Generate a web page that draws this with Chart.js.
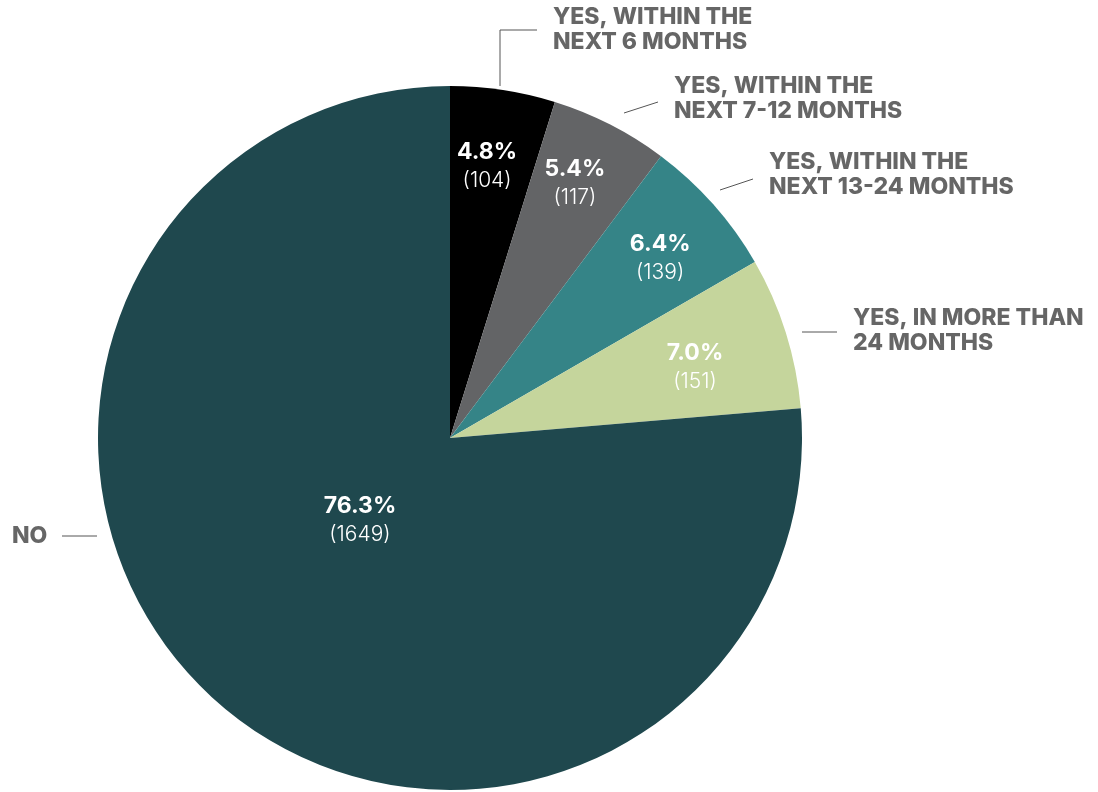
<!DOCTYPE html>
<html>
<head>
<meta charset="utf-8">
<script src="https://cdn.jsdelivr.net/npm/chart.js@4.4.1/dist/chart.umd.min.js"></script>
<style>
  html, body { margin: 0; padding: 0; background: #ffffff; }
  #wrap { position: relative; width: 1098px; height: 792px; }
</style>
</head>
<body>
<div id="wrap"><canvas id="pie" width="1098" height="792"></canvas></div>
<script>
// Survey answers, clockwise from 12 o'clock
const categories = [
  ['YES, WITHIN THE', 'NEXT 6 MONTHS'],
  ['YES, WITHIN THE', 'NEXT 7-12 MONTHS'],
  ['YES, WITHIN THE', 'NEXT 13-24 MONTHS'],
  ['YES, IN MORE THAN', '24 MONTHS'],
  ['NO']
];
const counts = [104, 117, 139, 151, 1649];
const percentLabels = ['4.8%', '5.4%', '6.4%', '7.0%', '76.3%'];
const sliceColors = ['#000000', '#636466', '#358487', '#c5d59c', '#1f484e'];

// Where the in-slice value labels sit (fraction of radius, angle nudge in degrees)
const innerLabelRadius = [0.78, 0.807, 0.786, 0.725, 0.346];
const innerLabelNudge = [-0.9, -1.0, 1.0, 1.2, 5.1];

// Outside category labels: text anchor and leader polyline
const outerLabels = [
  { x: 553, y: 17, align: 'left', line: [[500, 86], [500, 30], [537, 30]] },
  { x: 674, y: 86, align: 'left', line: [[624, 113], [658, 102]] },
  { x: 769, y: 162, align: 'left', line: [[720, 190], [753, 179]] },
  { x: 853, y: 318, align: 'left', line: [[802, 332], [837, 332]] },
  { x: 12, y: 536, align: 'left', line: [[62, 536], [97, 536]] }
];

const FONT = 'Inter, "Liberation Sans", Arial, sans-serif';

const sliceLabels = {
  id: 'sliceLabels',
  afterDatasetsDraw(chart) {
    const ctx = chart.ctx;
    const meta = chart.getDatasetMeta(0);
    ctx.save();
    meta.data.forEach((arc, i) => {
      const p = arc.getProps(['x', 'y', 'startAngle', 'endAngle', 'outerRadius'], true);
      const mid = (p.startAngle + p.endAngle) / 2 + innerLabelNudge[i] * Math.PI / 180;
      const r = p.outerRadius * innerLabelRadius[i];
      const cx = p.x + Math.cos(mid) * r;
      const cy = p.y + Math.sin(mid) * r;
      ctx.fillStyle = '#ffffff';
      ctx.textAlign = 'center';
      ctx.textBaseline = 'middle';
      ctx.font = 'bold 23px ' + FONT;
      ctx.fillText(percentLabels[i], cx, cy - 14);
      ctx.font = '300 21px ' + FONT;
      ctx.fillText('(' + counts[i] + ')', cx, cy + 15);

      // category label outside the pie
      const o = outerLabels[i];
      ctx.strokeStyle = '#555555';
      ctx.lineWidth = 1;
      ctx.beginPath();
      o.line.forEach((pt, k) => k ? ctx.lineTo(pt[0], pt[1]) : ctx.moveTo(pt[0], pt[1]));
      ctx.stroke();
      ctx.fillStyle = '#666666';
      ctx.textAlign = o.align;
      ctx.font = '800 23px ' + FONT;
      categories[i].forEach((line, k) => ctx.fillText(line, o.x, o.y + k * 25));
    });
    ctx.restore();
  }
};

new Chart(document.getElementById('pie'), {
  type: 'pie',
  data: {
    labels: categories.map(c => c.join(' ')),
    datasets: [{
      data: counts,
      backgroundColor: sliceColors,
      borderWidth: 0
    }]
  },
  options: {
    responsive: false,
    animation: false,
    layout: { padding: { left: 98, right: 296, top: 86, bottom: 2 } },
    plugins: {
      legend: { display: false },
      tooltip: { enabled: false }
    }
  },
  plugins: [sliceLabels]
});
</script>
</body>
</html>
